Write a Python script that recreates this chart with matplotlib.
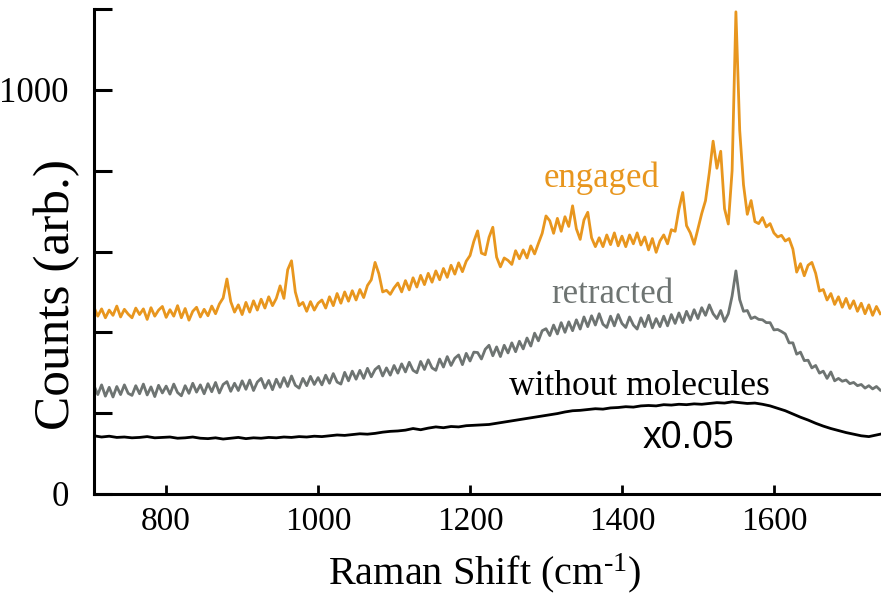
import numpy as np
import matplotlib
matplotlib.use("Agg")
import matplotlib.pyplot as plt

# Raman shift grids (cm^-1)
shift = np.arange(705, 1745, 5)          # 705 .. 1740
shift_bg = np.arange(705, 1746, 10)      # 705 .. 1745

engaged = [
    462, 440, 458, 436, 455, 442, 465, 438, 457, 445,
    436, 460, 444, 458, 432, 461, 440, 455, 464, 437,
    456, 440, 466, 436, 459, 430, 452, 462, 438, 457,
    441, 465, 446, 470, 485, 532, 476, 450, 468, 444,
    474, 450, 478, 455, 482, 460, 488, 466, 484, 515,
    484, 555, 577, 500, 466, 474, 452, 476, 455, 472,
    480, 460, 488, 466, 496, 472, 500, 477, 503, 480,
    506, 486, 516, 530, 573, 545, 500, 504, 494, 510,
    522, 500, 528, 505, 535, 512, 541, 518, 546, 524,
    552, 530, 558, 536, 566, 544, 572, 550, 576, 590,
    625, 651, 596, 592, 635, 660, 586, 562, 584, 578,
    568, 602, 582, 604, 584, 614, 594, 620, 645, 688,
    676, 645, 682, 650, 686, 662, 713, 656, 630, 678,
    697, 634, 612, 634, 612, 641, 617, 646, 614, 638,
    612, 641, 619, 646, 616, 636, 604, 632, 598, 626,
    641, 619, 654, 650, 705, 746, 664, 646, 618, 656,
    694, 726, 795, 873, 806, 848, 706, 668, 800, 1193,
    900, 765, 692, 726, 674, 669, 684, 661, 669, 646,
    636, 640, 626, 632, 606, 549, 570, 540, 566, 573,
    546, 502, 506, 480, 496, 469, 488, 462, 484, 459,
    478, 452, 472, 446, 468, 442, 464, 446,
]

retracted = [
    268, 246, 270, 242, 264, 240, 266, 246, 270, 249,
    244, 268, 248, 272, 245, 265, 241, 269, 250, 267,
    247, 272, 251, 243, 268, 249, 274, 252, 270, 248,
    273, 253, 276, 250, 271, 278, 254, 274, 256, 280,
    259, 282, 256, 277, 286, 262, 281, 258, 284, 264,
    288, 266, 292, 269, 262, 286, 268, 291, 271, 288,
    270, 294, 274, 298, 277, 272, 301, 280, 304, 284,
    306, 286, 311, 290, 308, 316, 292, 312, 294, 318,
    299, 322, 302, 326, 306, 300, 328, 308, 332, 312,
    306, 334, 314, 340, 318, 336, 344, 320, 348, 329,
    351, 350, 334, 358, 368, 342, 364, 340, 368, 349,
    374, 352, 378, 359, 386, 366, 398, 379, 404, 409,
    392, 418, 396, 424, 400, 426, 404, 431, 408, 438,
    414, 441, 418, 446, 420, 412, 440, 416, 444, 422,
    412, 438, 418, 408, 436, 414, 442, 411, 434, 414,
    440, 416, 444, 422, 448, 424, 452, 430, 456, 434,
    461, 442, 468, 446, 434, 454, 427, 446, 490, 552,
    481, 452, 454, 434, 438, 432, 431, 424, 424, 406,
    407, 402, 396, 374, 374, 346, 351, 330, 331, 312,
    318, 299, 304, 286, 302, 280, 286, 279, 282, 273,
    276, 268, 271, 262, 268, 260, 266, 257,
]

without_molecules = [
    144, 141, 143, 140, 141, 139, 140, 142, 139, 140,
    141, 138, 139, 141, 138, 137, 139, 136, 138, 140,
    137, 139, 138, 140, 139, 141, 140, 142, 141, 143,
    142, 144, 146, 145, 147, 149, 148, 150, 153, 155,
    156, 158, 162, 159, 163, 166, 164, 167, 166, 169,
    170, 171, 172, 175, 178, 181, 184, 187, 190, 193,
    196, 199, 203, 206, 207, 209, 211, 210, 213, 214,
    216, 215, 218, 219, 218, 221, 220, 222, 221, 223,
    222, 224, 226, 225, 228, 226, 224, 225, 222, 218,
    212, 206, 198, 190, 183, 175, 168, 162, 157, 152,
    148, 144, 142, 146, 150,
]

y_ticks = [0, 200, 400, 600, 800, 1000, 1200]
y_ticklabels = ["0", "", "", "", "", "1000", ""]
x_ticks = [800, 1000, 1200, 1400, 1600]

ORANGE = "#E8961E"
GREY = "#6E7472"

plt.rcParams["mathtext.fontset"] = "custom"
plt.rcParams["mathtext.rm"] = "Liberation Serif"
plt.rcParams["mathtext.it"] = "Liberation Serif:italic"
plt.rcParams["mathtext.bf"] = "Liberation Serif:bold"

fig = plt.figure(figsize=(8.81, 5.94), dpi=100)
ax = fig.add_axes([94 / 881, 100 / 594, 1 - 94 / 881, (494 - 9) / 594])

ax.plot(shift, engaged, color=ORANGE, lw=2.0)
ax.plot(shift, retracted, color=GREY, lw=2.0)
ax.plot(shift_bg, without_molecules, color="black", lw=2.0)

ax.set_xlim(705, 1741)
ax.set_ylim(0, 1200)

for s in ["top", "right"]:
    ax.spines[s].set_visible(False)
for s in ["left", "bottom"]:
    ax.spines[s].set_linewidth(2.2)

ax.set_yticks(y_ticks)
ax.set_yticklabels(y_ticklabels)
ax.set_xticks(x_ticks)
ax.tick_params(axis="y", direction="in", length=13, width=2.2, pad=18,
               labelsize=25, labelfontfamily="Liberation Serif")
ax.tick_params(axis="x", direction="in", length=6.5, width=2.0, pad=9,
               labelsize=24, labelfontfamily="Liberation Serif")

ax.text(1373, 760, "engaged", color=ORANGE, fontsize=25,
        family="Liberation Serif", ha="center", va="baseline")
ax.text(1387, 472, "retracted", color=GREY, fontsize=25,
        family="Liberation Serif", ha="center", va="baseline")
ax.text(1423, 245, "without molecules", color="black", fontsize=25.5,
        family="Liberation Serif", ha="center", va="baseline")
ax.text(1488, 114, "x0.05", color="black", fontsize=27,
        family="Liberation Sans", ha="center", va="baseline")

fig.text(57 / 881, 1 - 295 / 594, "Counts (arb.)", rotation=90,
         fontsize=37, family="Liberation Serif", ha="center", va="center")
fig.text(485 / 881, 1 - 573 / 594, r"Raman Shift (cm$^{\text{-1}}$)",
         fontsize=29, family="Liberation Serif", ha="center", va="center")

fig.savefig("out.png", dpi=100)
